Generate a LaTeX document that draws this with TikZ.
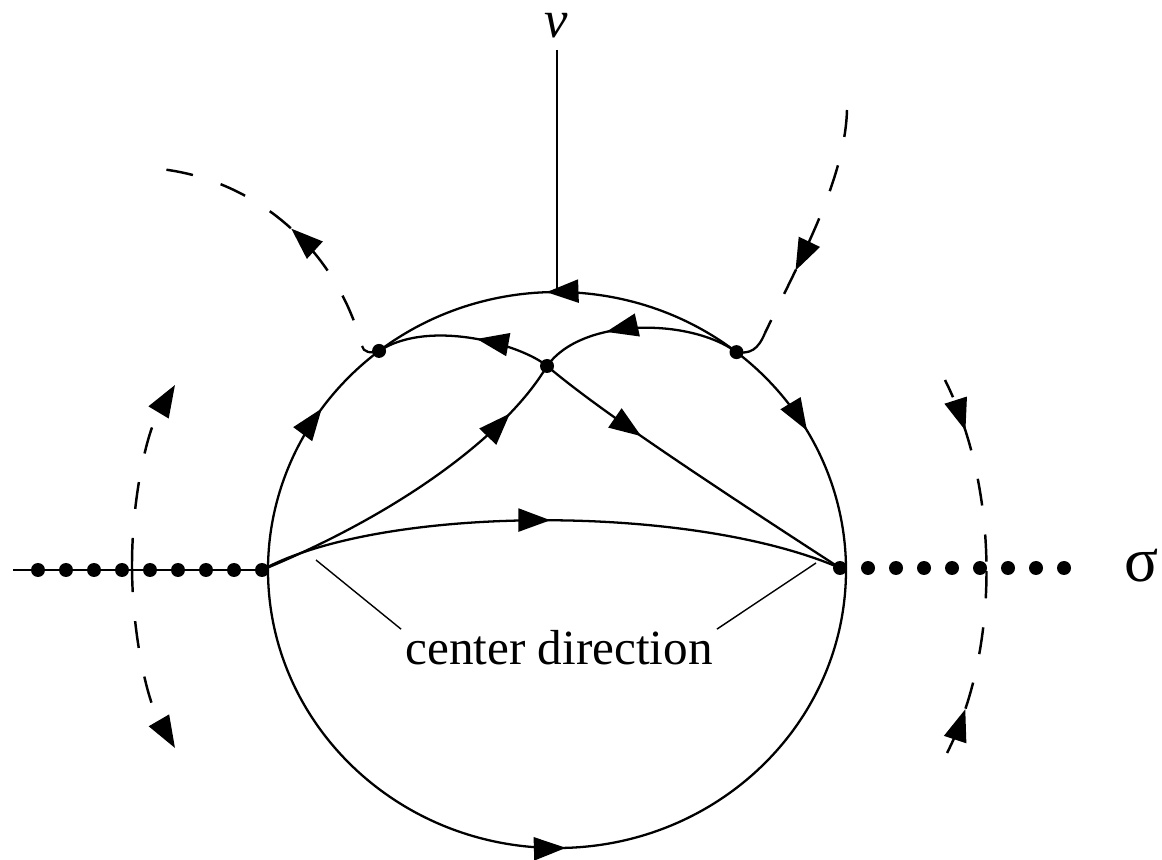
\documentclass[tikz,border=0pt]{standalone}
\usepackage{fontspec}
\setmainfont{Liberation Serif}
\usetikzlibrary{arrows.meta,calc,decorations.markings}

\begin{document}
\begin{tikzpicture}[x=0.1mm, y=0.1mm, >={Triangle[length=3.2mm,width=2.3mm]},
  orbit/.style={line width=0.65pt},
  dashorbit/.style={line width=0.7pt, dash pattern=on 7.7pt off 8.3pt},
  leader/.style={line width=0.4pt},
  dot/.style={circle, fill, inner sep=0pt, minimum size=1.4mm},
  flowmark/.style={postaction={decorate}, decoration={markings, mark=at position #1 with {\arrow{>}}}},
  lab/.style={inner sep=0pt}]
\useasboundingbox (0,0) rectangle (1162,859);

% ---------------- fixed points
\coordinate (C) at (557,289);
\coordinate (cW) at ($(C)+(180:289 and 278)$);
\coordinate (cN) at ($(C)+(90:289 and 278)$);
\node[dot] (L) at (262,289) {};
\node[dot] (R) at (840,291) {};
\node[dot] (P1) at ($(C)+(128:289 and 278)$) {};
\node[dot] (P2) at ($(C)+(51.6:289 and 278)$) {};
\node[dot] (M) at (547,493) {};

% ---------------- the circle, four arcs
\draw[orbit, flowmark=0.68] (cW) arc[start angle=180, end angle=128, x radius=289, y radius=278];
\draw[orbit, flowmark=0.53] (P2.center) arc[start angle=51.6, end angle=128, x radius=289, y radius=278];
\draw[orbit, flowmark=0.42] (P2.center) arc[start angle=51.6, end angle=0, x radius=289, y radius=278];
\draw[orbit, flowmark=0.51] (cW) arc[start angle=180, end angle=360, x radius=289, y radius=278];

% ---------------- orbits inside
\draw[orbit, flowmark=0.50] (L.center) .. controls (380,354) and (690,356) .. (R.center);
\draw[orbit, flowmark=0.83] (L.center) .. controls (410,350) and (510,430) .. (M.center);
\draw[orbit, flowmark=0.66] (P2.center) .. controls (690,541) and (582,542) .. (M.center);
\draw[orbit, flowmark=0.43] (M.center) .. controls (522,514) and (430,541) .. (P1.center);
\draw[orbit, flowmark=0.33] (M.center) .. controls (585,461) and (650,414) .. (R.center);

% ---------------- axes
\coordinate (lstart) at (13,289);
\draw[orbit] (lstart) -- (L.center);
\foreach \k in {1,...,8} {
  \node[dot] (ld\k) at ($(L.center)+(-28*\k,0)$) {};
  \node[dot] (rd\k) at ($(R.center)+(28*\k,0)$) {};
}
\coordinate (vtop) at (557,809);
\draw[orbit] (vtop) -- (cN);
\node[lab, anchor=base, font=\fontsize{15}{18}\selectfont\itshape] (vlab) at (556,821) {v};
\node[lab, anchor=base west, font=\fontsize{18}{22}\selectfont] (sig) at (1124,277) {σ};

% ---------------- dashed orbits outside
\coordinate (hl) at (362,513);
\coordinate (ulend) at (150,691);
\draw[orbit] (hl) .. controls (363,507) and (371,505) .. (P1.center);
\draw[dashorbit, dash phase=8.3pt, flowmark=0.47] (hl) .. controls (335,614) and (250,684) .. (ulend);

\coordinate (urstart) at (847,749);
\coordinate (hr) at (765,526);
\draw[dashorbit, flowmark=0.71] (urstart) .. controls (845,679) and (800,599) .. (hr);
\draw[orbit] (hr) .. controls (758,509) and (750,505) .. (P2.center);

\coordinate (lmid) at (132,294);
\coordinate (ltop) at (175,474);
\coordinate (lbot) at (175,111);
\draw[dashorbit, ->] (lmid) .. controls (132,360) and (146.5,426.5) .. (ltop);
\draw[dashorbit, ->] (lmid) .. controls (132,227) and (146.5,160) .. (lbot);

\coordinate (rmid) at (986.5,290);
\coordinate (rtop) at (945,479);
\coordinate (rbot) at (947,106);
\draw[dashorbit, dash phase=2.3pt, flowmark=0.28] (rtop) .. controls (972.5,424) and (986.25,356.5) .. (rmid);
\draw[dashorbit, dash phase=2.3pt, flowmark=0.25] (rbot) .. controls (973.5,157.5) and (986.75,223.25) .. (rmid);

% ---------------- label
\node[lab, anchor=base, inner xsep=1pt, font=\fontsize{14}{16}\selectfont] (cdir) at (559,195) {center direction};
\coordinate (lfoot) at (316,299);
\coordinate (rfoot) at (816,296);
\draw[leader] (lfoot) -- (cdir.north west);
\draw[leader] (rfoot) -- (cdir.north east);
\end{tikzpicture}
\end{document}
